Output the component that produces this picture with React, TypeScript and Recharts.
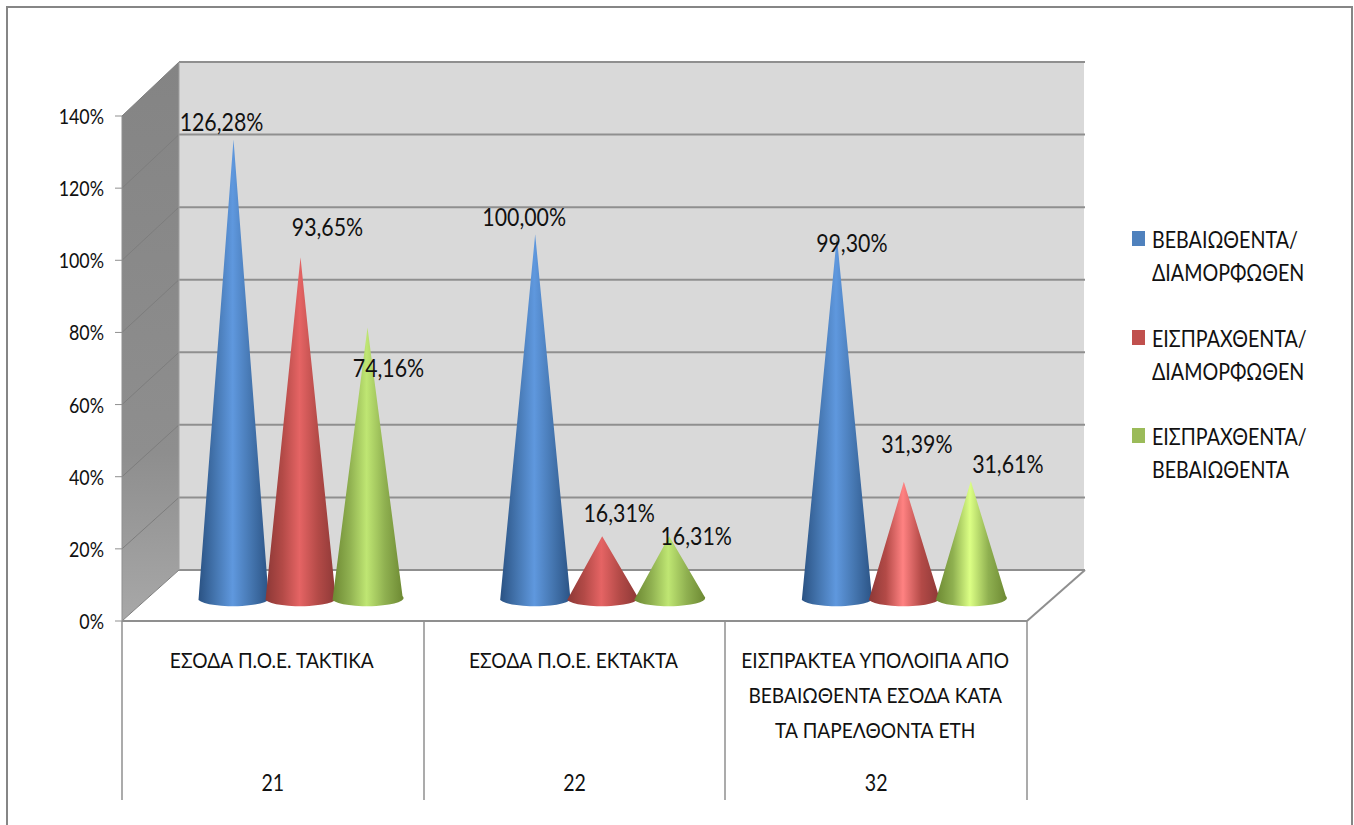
import { BarChart, Bar, XAxis, YAxis, Legend, LabelList, Customized } from "recharts";

const FONT = "Lato, 'Noto Sans', sans-serif";
// the original font is narrower and taller than Lato, so glyphs get squeezed
const SQUEEZE = 0.87;

const categories = ["21", "22", "32"];
const categoryNames = [
  "ΕΣΟΔΑ Π.Ο.Ε. ΤΑΚΤΙΚΑ",
  "ΕΣΟΔΑ Π.Ο.Ε. ΕΚΤΑΚΤΑ",
  "ΕΙΣΠΡΑΚΤΕΑ ΥΠΟΛΟΙΠΑ ΑΠΟ\nΒΕΒΑΙΩΘΕΝΤΑ ΕΣΟΔΑ ΚΑΤΑ\nΤΑ ΠΑΡΕΛΘΟΝΤΑ ΕΤΗ",
];
const beb = [126.28, 100.0, 99.3];
const eisDiam = [93.65, 16.31, 31.39];
const eisBeb = [74.16, 16.31, 31.61];
const yTicks = [0, 20, 40, 60, 80, 100, 120, 140];

const seriesNames = [
  "ΒΕΒΑΙΩΘΕΝΤΑ/\nΔΙΑΜΟΡΦΩΘΕΝ",
  "ΕΙΣΠΡΑΧΘΕΝΤΑ/\nΔΙΑΜΟΡΦΩΘΕΝ",
  "ΕΙΣΠΡΑΧΘΕΝΤΑ/\nΒΕΒΑΙΩΘΕΝΤΑ",
];

const data = categories.map((code, i) => ({
  code,
  name: categoryNames[i],
  beb: beb[i],
  eisDiam: eisDiam[i],
  eisBeb: eisBeb[i],
}));

// label placement relative to cone tip, picked by eye per category
const blueLabel = [[-12, -18], [-11, -18], [15, 6]];
const redLabel = [[27, -31], [17, -24], [13, -38]];
const greenLabel = [[21, 40], [27, -1], [37, -18]];

// 3d box of the plot
const LEFT = 122;
const RIGHT = 1027;
const TOP = 116;
const BOTTOM = 621;
const DX = 57;
const DY = 51;
const CONE_DX = 28;
const CONE_DY = 26;
const LEGEND_W = 210;

const Walls = () => {
  const yOf = (t: number) => BOTTOM - (t / 140) * (BOTTOM - TOP);
  return (
    <g>
      <rect x={7} y={7} width={1345} height={830} fill="#fff" stroke="#868686" strokeWidth={2} />
      <polygon
        points={`${LEFT},${TOP} ${LEFT + DX},${TOP - DY - 3} ${LEFT + DX},${BOTTOM - DY} ${LEFT},${BOTTOM}`}
        fill="url(#sideWall)"
      />
      <rect x={LEFT + DX} y={TOP - DY - 3} width={RIGHT - LEFT} height={BOTTOM - TOP + 3} fill="#d9d9d9" />
      <polygon
        points={`${LEFT},${BOTTOM} ${LEFT + DX},${BOTTOM - DY} ${RIGHT + DX + 1},${BOTTOM - DY} ${RIGHT},${BOTTOM}`}
        fill="#fff"
      />
      {yTicks.map((t) => (
        <g key={t}>
          <line x1={LEFT} x2={LEFT + DX} y1={yOf(t)} y2={yOf(t) - DY - (t / 140) * 3} stroke="#7d7d7d" strokeWidth={1} />
          <line
            x1={LEFT + DX}
            x2={RIGHT + DX + 1}
            y1={yOf(t) - DY - (t / 140) * 3}
            y2={yOf(t) - DY - (t / 140) * 3}
            stroke="#8f8f8f"
            strokeWidth={2}
          />
        </g>
      ))}
      <line x1={LEFT + DX} x2={LEFT + DX} y1={TOP - DY - 3} y2={BOTTOM - DY} stroke="#a0a0a0" strokeWidth={1} />
      <line x1={RIGHT} x2={RIGHT + DX + 1} y1={BOTTOM} y2={BOTTOM - DY} stroke="#8f8f8f" strokeWidth={2} />
      {[122, 424, 725, 1027].map((x) => (
        <line key={x} x1={x} x2={x} y1={BOTTOM} y2={800} stroke="#8f8f8f" strokeWidth={1.5} />
      ))}
    </g>
  );
};

const Gradients = () => (
  <defs>
    <linearGradient id="sideWall" x1="0" y1="0" x2="0" y2="1">
      <stop offset="0" stopColor="#848484" />
      <stop offset="0.7" stopColor="#8e8e8e" />
      <stop offset="1" stopColor="#a8a8a8" />
    </linearGradient>
    {[
      ["blue", "#2a5283", "#4576b0", "#5f98de"],
      ["red", "#8c3836", "#b34a47", "#e56464"],
      ["redBright", "#8c3836", "#b34a47", "#ff8282"],
      ["green", "#6c8832", "#8fb050", "#bfe673"],
      ["greenBright", "#6c8832", "#8fb050", "#dcff85"],
    ].map(([id, edge, body, mid]) => (
      <linearGradient key={id} id={id} x1="0" y1="0" x2="1" y2="0">
        <stop offset="0" stopColor={edge} />
        <stop offset="0.24" stopColor={body} />
        <stop offset="0.48" stopColor={mid} />
        <stop offset="0.74" stopColor={body} />
        <stop offset="1" stopColor={edge} />
      </linearGradient>
    ))}
  </defs>
);

const Cone = (props: any) => {
  const { x, y, width, height, gradients, index } = props;
  const cx = x + width / 2 + CONE_DX;
  const tip = y - CONE_DY;
  const base = y + height - CONE_DY;
  const r = 35;
  return (
    <path
      d={`M${cx},${tip} L${cx + r},${base + 1} A${r},8 0 0 1 ${cx - r},${base + 5} Z`}
      fill={`url(#${gradients[index]})`}
    />
  );
};

const Squeezed = ({ x, y, size, anchor = "middle", children }: any) => (
  <text
    transform={`translate(${x},${y}) scale(${SQUEEZE},1)`}
    textAnchor={anchor}
    dominantBaseline="central"
    fontFamily={FONT}
    fontSize={size}
    fill="#111"
  >
    {children}
  </text>
);

const ConeLabel = (offsets: number[][]) => (props: any) => {
  const { x, y, width, index, value } = props;
  const [ox, oy] = offsets[index];
  return (
    <Squeezed x={x + width / 2 + CONE_DX + ox} y={y - CONE_DY + oy} size={24.5}>
      {value.toFixed(2).replace(".", ",")}%
    </Squeezed>
  );
};

const CategoryTick = (props: any) => {
  const { x, payload, index } = props;
  const lines = String(payload.value).split("\n");
  return (
    <g>
      {lines.map((line, i) => (
        <Squeezed key={i} x={x - 1} y={659 + i * 35} size={22}>
          {line}
        </Squeezed>
      ))}
      <Squeezed x={x} y={782} size={22.5}>
        {categories[index]}
      </Squeezed>
    </g>
  );
};

const PercentTick = (props: any) => {
  const { x, y, payload } = props;
  return (
    <Squeezed x={x} y={y} size={20.5} anchor="end">
      {payload.value}%
    </Squeezed>
  );
};

const LegendBox = (props: any) => (
  <div style={{ fontFamily: FONT, fontSize: 23, color: "#111" }}>
    {props.payload.map((item: any) => (
      <div key={item.value} style={{ display: "flex", height: 98.5 }}>
        <div style={{ width: 13, height: 15, marginTop: 8, marginRight: 7, flex: "none", background: item.color }} />
        <div
          style={{
            whiteSpace: "pre-line",
            lineHeight: "33px",
            transform: "scaleX(0.855)",
            transformOrigin: "left",
            flex: "none",
          }}
        >
          {item.value}
        </div>
      </div>
    ))}
  </div>
);

export default function App() {
  return (
    <div style={{ position: "absolute", left: 0, top: 0, width: 1354, height: 825, overflow: "hidden" }}>
      <BarChart
        width={1354}
        height={825}
        data={data}
        margin={{ top: TOP, right: 1354 - RIGHT - LEGEND_W, bottom: 24, left: 62 }}
        barSize={67}
        barGap={0}
        style={{ background: "#fff" }}
      >
        <Customized component={Gradients} />
        <Customized component={Walls} />
        <XAxis
          dataKey="name"
          height={180}
          interval={0}
          tick={<CategoryTick />}
          tickLine={false}
          axisLine={{ stroke: "#8f8f8f", strokeWidth: 2 }}
        />
        <YAxis
          width={60}
          domain={[0, 140]}
          ticks={yTicks}
          tickSize={7}
          tickMargin={11}
          tick={<PercentTick />}
          tickLine={{ stroke: "#8f8f8f" }}
          axisLine={{ stroke: "#8f8f8f" }}
        />
        <Legend
          layout="vertical"
          align="right"
          verticalAlign="top"
          itemSorter={null}
          wrapperStyle={{ left: 1132, top: 223, width: LEGEND_W, right: "auto" }}
          content={<LegendBox />}
        />
        <Bar
          dataKey="beb"
          name={seriesNames[0]}
          fill="#4f81bd"
          isAnimationActive={false}
          shape={<Cone gradients={["blue", "blue", "blue"]} />}
        >
          <LabelList dataKey="beb" content={ConeLabel(blueLabel)} />
        </Bar>
        <Bar
          dataKey="eisDiam"
          name={seriesNames[1]}
          fill="#c0504d"
          isAnimationActive={false}
          shape={<Cone gradients={["red", "red", "redBright"]} />}
        >
          <LabelList dataKey="eisDiam" content={ConeLabel(redLabel)} />
        </Bar>
        <Bar
          dataKey="eisBeb"
          name={seriesNames[2]}
          fill="#9bbb59"
          isAnimationActive={false}
          shape={<Cone gradients={["green", "green", "greenBright"]} />}
        >
          <LabelList dataKey="eisBeb" content={ConeLabel(greenLabel)} />
        </Bar>
      </BarChart>
    </div>
  );
}
